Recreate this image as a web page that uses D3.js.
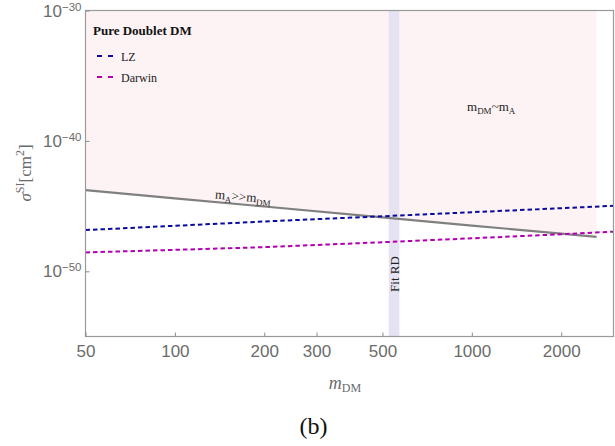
<!DOCTYPE html>
<html>
<head>
<meta charset="utf-8">
<script src="https://cdn.jsdelivr.net/npm/d3@7"></script>
<style>
  body { margin: 0; background: #fff; }
  svg { display: block; font-family: "Liberation Serif", "DejaVu Serif", serif; }
</style>
</head>
<body>
<svg id="frame" width="615" height="446"></svg>
<script>
const massGrid = [50, 100, 200, 300, 500, 1000, 2000, 3000];
// LZ and Darwin projected limits, cm^2
const lzLimit = [1.45e-47, 3.1e-47, 6.6e-47, 1.0e-46, 1.66e-46, 3.4e-46, 6.9e-46, 1.05e-45];
const darwinLimit = [2.8e-49, 4.4e-49, 7.1e-49, 1.05e-48, 1.7e-48, 3.4e-48, 6.9e-48, 1.1e-47];

// m_A >> m_DM boundary; region above it is shaded
const boundaryMass = [50, 100, 200, 500, 1000, 2000, 2630];
const boundarySigma = [1.66e-44, 3.9e-45, 9.3e-46, 1.38e-46, 3.2e-47, 7.8e-48, 4.4e-48];

// relic density fit band in m_DM
const fitRD = [525, 570];

const xTicks = [50, 100, 200, 300, 500, 1000, 2000];
const yTickExp = [-30, -40, -50];

const config = { left: 85.5, right: 613.5, top: 10.5, bottom: 336.5 };

const svg = d3.select("#frame");

const x = d3.scaleLog().domain([50, 3000]).range([config.left, config.right]);
const y = d3.scaleLog().domain([1e-55, 1e-30]).range([config.bottom, config.top]);

// shaded excluded region above the boundary
const area = d3.area()
  .x((d, i) => x(boundaryMass[i]))
  .y0(config.top)
  .y1(d => y(d));

svg.append("path")
  .datum(boundarySigma)
  .attr("d", area)
  .attr("fill", "#fdf3f4");

// Fit RD band
svg.append("rect")
  .attr("x", x(fitRD[0]))
  .attr("width", x(fitRD[1]) - x(fitRD[0]))
  .attr("y", config.top)
  .attr("height", config.bottom - config.top)
  .attr("fill", "#e5e3f1");

svg.append("text")
  .attr("transform", `translate(${(x(fitRD[0]) + x(fitRD[1])) / 2 + 4.5}, 274) rotate(-90)`)
  .attr("text-anchor", "middle")
  .attr("font-size", 13)
  .attr("fill", "#222")
  .text("Fit RD");

// boundary line
svg.append("path")
  .datum(boundarySigma)
  .attr("d", d3.line().x((d, i) => x(boundaryMass[i])).y(d => y(d)))
  .attr("fill", "none")
  .attr("stroke", "#808080")
  .attr("stroke-width", 2.2);

// projected limits
const limits = [
  { name: "LZ", values: lzLimit, color: "#0a0aa0" },
  { name: "Darwin", values: darwinLimit, color: "#b000b0" }
];

limits.forEach(s => {
  svg.append("path")
    .datum(s.values)
    .attr("d", d3.line().x((d, i) => x(massGrid[i])).y(d => y(d)))
    .attr("fill", "none")
    .attr("stroke", s.color)
    .attr("stroke-width", 2)
    .attr("stroke-dasharray", "4.5,3");
});

// label along the boundary
const p0 = [x(boundaryMass[0]), y(boundarySigma[0])];
const p1 = [x(boundaryMass[boundaryMass.length - 1]), y(boundarySigma[boundarySigma.length - 1])];
const angle = Math.atan2(p1[1] - p0[1], p1[0] - p0[0]) * 180 / Math.PI;
const lx = x(169);
const ly = p0[1] + (lx - p0[0]) * (p1[1] - p0[1]) / (p1[0] - p0[0]) - 3.5;

const lab1 = svg.append("text")
  .attr("transform", `translate(${lx}, ${ly}) rotate(${angle})`)
  .attr("text-anchor", "middle")
  .attr("font-size", 13)
  .attr("fill", "#222");
lab1.append("tspan").text("m");
lab1.append("tspan").attr("font-size", 9).attr("dy", 3).text("A");
lab1.append("tspan").attr("dy", -3).text(">>m");
lab1.append("tspan").attr("font-size", 9).attr("dy", 3).text("DM");

const lab2 = svg.append("text")
  .attr("x", 467)
  .attr("y", 110.5)
  .attr("font-size", 13)
  .attr("fill", "#222");
lab2.append("tspan").text("m");
lab2.append("tspan").attr("font-size", 9).attr("dy", 3).text("DM");
lab2.append("tspan").attr("dy", -3).text("~m");
lab2.append("tspan").attr("font-size", 9).attr("dy", 3).text("A");

// legend
svg.append("text")
  .attr("x", 93)
  .attr("y", 34.5)
  .attr("font-size", 13)
  .attr("font-weight", "bold")
  .attr("fill", "#111")
  .text("Pure Doublet DM");

const legend = svg.selectAll("g.legend")
  .data(limits)
  .join("g")
  .classed("legend", true)
  .attr("transform", (d, i) => `translate(0, ${56 + i * 21})`);

legend.append("line")
  .attr("x1", 97).attr("x2", 114)
  .attr("stroke", d => d.color)
  .attr("stroke-width", 2)
  .attr("stroke-dasharray", "5,6");

legend.append("text")
  .attr("x", 121)
  .attr("y", 4.5)
  .attr("font-size", 12)
  .attr("fill", "#222")
  .text(d => d.name);

// frame
svg.append("rect")
  .attr("x", config.left)
  .attr("y", config.top)
  .attr("width", config.right - config.left)
  .attr("height", config.bottom - config.top)
  .attr("fill", "none")
  .attr("stroke", "#9a9a9a")
  .attr("stroke-width", 1.2);

// axes
const xAxis = svg.append("g")
  .attr("transform", `translate(0, ${config.bottom})`)
  .call(d3.axisBottom(x).tickValues(xTicks).tickSize(-4).tickPadding(8).tickFormat(d3.format("d")));

const yAxis = svg.append("g")
  .attr("transform", `translate(${config.left}, 0)`)
  .call(d3.axisLeft(y).tickValues(yTickExp.map(e => Math.pow(10, e))).tickSize(-4).tickFormat(""));

[xAxis, yAxis].forEach(a => {
  a.select(".domain").remove();
  a.selectAll(".tick line").attr("stroke", "#8a8a8a");
  a.selectAll(".tick text").attr("fill", "#6b6b6b").attr("font-size", 17).attr("font-family", null);
});

yAxis.selectAll(".tick").each(function (d, i) {
  const t = d3.select(this).append("text")
    .attr("x", -4)
    .attr("y", 5.5)
    .attr("text-anchor", "end")
    .attr("fill", "#6b6b6b")
    .attr("font-size", 17);
  t.append("tspan").text("10");
  t.append("tspan").attr("font-size", 11.5).attr("dy", -6).text("\u2212" + Math.abs(yTickExp[i]));
});

// axis titles
const yt = svg.append("text")
  .attr("transform", "translate(31, 173) rotate(-90)")
  .attr("text-anchor", "middle")
  .attr("font-size", 17)
  .attr("fill", "#6b6b6b");
yt.append("tspan").attr("font-style", "italic").text("\u03c3");
yt.append("tspan").attr("font-size", 12).attr("dy", -7).text("SI");
yt.append("tspan").attr("dy", 7).text("[cm");
yt.append("tspan").attr("font-size", 12).attr("dy", -7).text("2");
yt.append("tspan").attr("dy", 7).text("]");

const xt = svg.append("text")
  .attr("x", 345)
  .attr("y", 389)
  .attr("text-anchor", "middle")
  .attr("font-size", 18)
  .attr("fill", "#6b6b6b");
xt.append("tspan").attr("font-style", "italic").text("m");
xt.append("tspan").attr("font-size", 12).attr("dy", 3).text("DM");

svg.append("text")
  .attr("x", 313.5)
  .attr("y", 434)
  .attr("text-anchor", "middle")
  .attr("font-size", 24)
  .attr("fill", "#111")
  .text("(b)");
</script>
</body>
</html>
